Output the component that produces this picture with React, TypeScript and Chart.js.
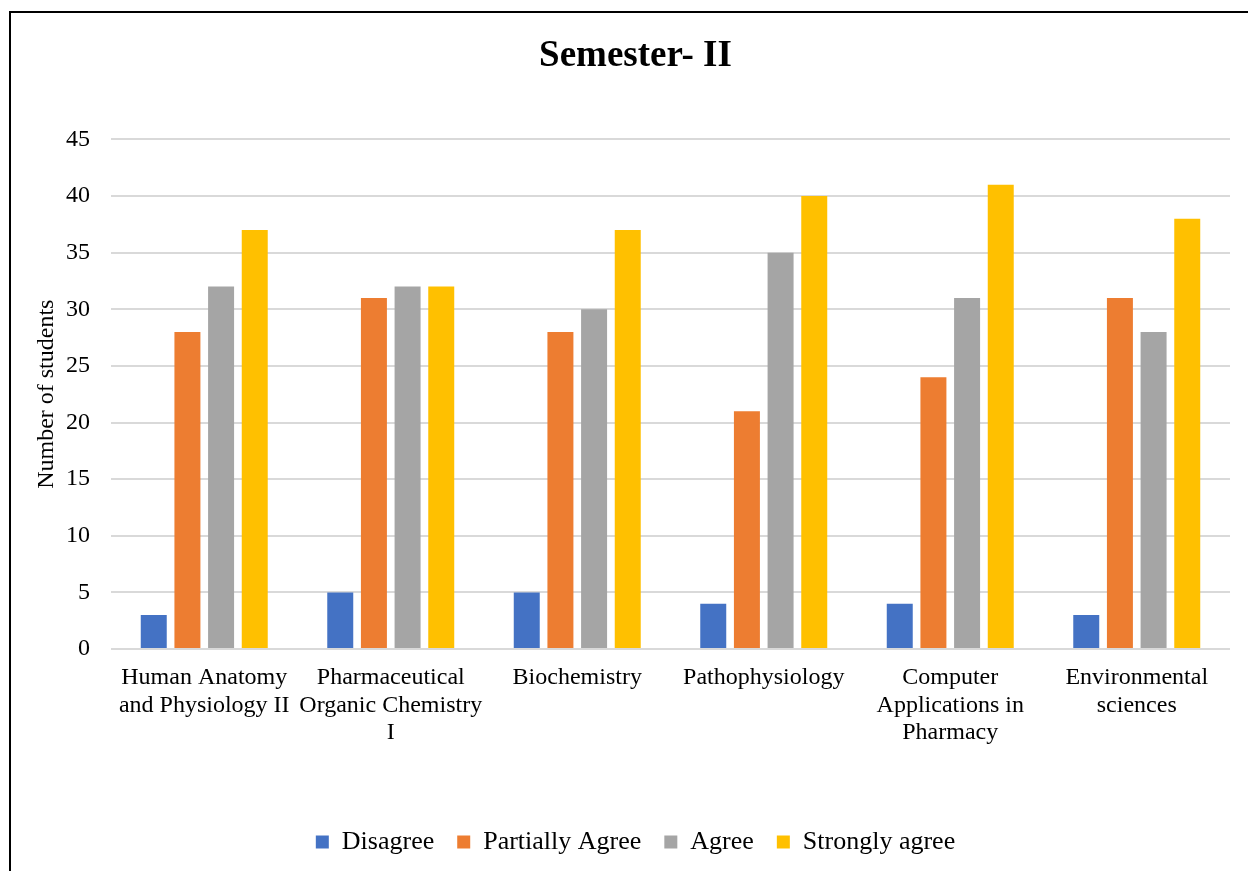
import React, { useEffect, useRef } from "react";
import { Chart, registerables } from "chart.js";

Chart.register(...registerables);

const categories: string[][] = [
  ["Human Anatomy", "and Physiology II"],
  ["Pharmaceutical", "Organic Chemistry", "I"],
  ["Biochemistry"],
  ["Pathophysiology"],
  ["Computer", "Applications in", "Pharmacy"],
  ["Environmental", "sciences"],
];

const disagree = [3, 5, 5, 4, 4, 3];
const partiallyAgree = [28, 31, 28, 21, 24, 31];
const agree = [32, 32, 30, 35, 31, 28];
const stronglyAgree = [37, 32, 37, 40, 41, 38];

const seriesNames = ["Disagree", "Partially Agree", "Agree", "Strongly agree"];
const seriesColors = ["#4472C4", "#ED7D31", "#A5A5A5", "#FFC000"];

const yMin = 0;
const yMax = 45;
const yStep = 5;

const FONT = "'Liberation Serif', 'Times New Roman', serif";

export default function App() {
  const canvasRef = useRef<HTMLCanvasElement | null>(null);

  useEffect(() => {
    if (!canvasRef.current) return;
    const values = [disagree, partiallyAgree, agree, stronglyAgree];
    const chart = new Chart(canvasRef.current, {
      type: "bar",
      data: {
        labels: categories,
        datasets: seriesNames.map((name, i) => ({
          label: name,
          data: values[i],
          backgroundColor: seriesColors[i],
          borderWidth: 0,
          categoryPercentage: 0.722,
          barPercentage: 0.772,
          yAxisID: "y",
        })),
      },
      options: {
        animation: false,
        responsive: false,
        maintainAspectRatio: false,
        layout: { padding: { left: 0, right: 0, top: 0, bottom: 6 } },
        plugins: {
          title: {
            display: true,
            text: "Semester- II",
            color: "#000",
            font: { family: FONT, size: 37, weight: "bold", lineHeight: 1.2 },
            padding: { top: 21, bottom: 61 },
          },
          legend: {
            display: true,
            position: "bottom",
            labels: {
              color: "#000",
              font: { family: FONT, size: 26 },
              boxWidth: 13,
              boxHeight: 13,
              padding: 23,
            },
          },
          tooltip: { enabled: false },
        },
        scales: {
          x: {
            grid: { display: false, drawTicks: false },
            border: { display: false },
            ticks: {
              color: "#000",
              font: { family: FONT, size: 24, lineHeight: 1.15 },
              padding: 15,
              maxRotation: 0,
              autoSkip: false,
            },
            afterFit: (scale: any) => {
              scale.height = 157;
            },
          },
          y: {
            position: "left",
            min: yMin,
            max: yMax,
            grid: { color: "#d9d9d9", lineWidth: 2, drawTicks: false },
            border: { display: false },
            ticks: {
              stepSize: yStep,
              color: "#000",
              font: { family: FONT, size: 24 },
              padding: 21,
            },
            title: {
              display: true,
              text: "Number of students",
              color: "#000",
              font: { family: FONT, size: 24, lineHeight: 1.2 },
              padding: { top: 21, bottom: 0 },
            },
            afterFit: (scale: any) => {
              scale.width = 100;
            },
          },
          y2: {
            position: "right",
            display: true,
            grid: { display: false, drawTicks: false },
            border: { display: false },
            ticks: { display: false },
            afterFit: (scale: any) => {
              scale.width = 30;
            },
          },
        },
      },
    });
    return () => chart.destroy();
  }, []);

  return (
    <div
      style={{
        position: "fixed",
        left: 0,
        top: 0,
        width: 1248,
        height: 871,
        overflow: "hidden",
        background: "#fff",
      }}
    >
      <div
        style={{
          position: "absolute",
          left: 9,
          top: 11,
          width: 1260,
          height: 900,
          borderLeft: "2px solid #000",
          borderTop: "2px solid #000",
        }}
      />
      <canvas
        ref={canvasRef}
        width={1249}
        height={858}
        style={{ position: "absolute", left: 11, top: 13, width: 1249, height: 858 }}
      />
    </div>
  );
}
